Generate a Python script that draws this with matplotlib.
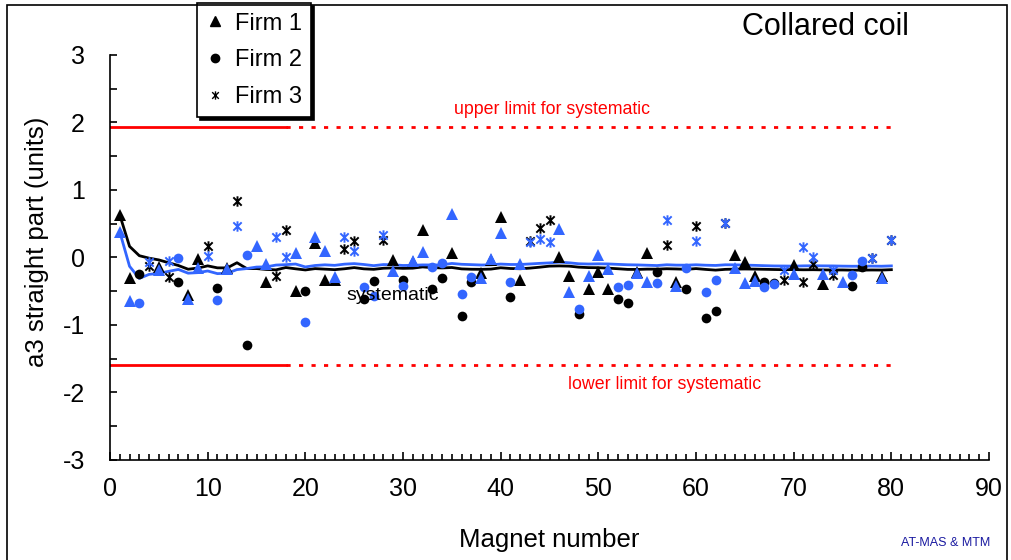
"""a3 straight part vs magnet number, collared coil, three firms."""
import numpy as np
import matplotlib
matplotlib.use("Agg")
import matplotlib.pyplot as plt
import matplotlib.patches as mpatches
from matplotlib.lines import Line2D
from matplotlib.path import Path
from matplotlib.ticker import MultipleLocator

plt.rcParams["font.family"] = ["Liberation Sans", "DejaVu Sans"]
plt.rcParams["axes.unicode_minus"] = False

magnet = np.arange(1, 81)
firm = [1, 1, 2, 3, 1, 3, 2, 1, 1, 3,
        2, 1, 3, 2, 1, 1, 3, 3, 1, 2,
        1, 1, 1, 3, 3, 2, 2, 3, 1, 2,
        1, 1, 2, 2, 1, 2, 2, 1, 1, 1,
        2, 1, 3, 3, 3, 1, 1, 2, 1, 1,
        1, 2, 2, 1, 1, 2, 3, 1, 2, 3,
        2, 2, 3, 1, 1, 1, 2, 2, 3, 1,
        3, 3, 1, 3, 1, 2, 2, 3, 1, 3]
a3_black = [0.63, -0.30, -0.25, -0.12, -0.14, -0.29, -0.36, -0.56, -0.02, 0.17,
            -0.45, -0.16, 0.84, -1.29, np.nan, -0.36, -0.27, 0.40, -0.49, -0.49,
            0.21, -0.33, -0.34, 0.12, 0.25, -0.61, -0.35, 0.26, -0.03, -0.34,
            -0.07, 0.40, -0.47, -0.30, 0.06, -0.86, -0.36, -0.23, -0.04, 0.60,
            -0.58, -0.33, 0.24, 0.43, 0.55, 0.01, -0.28, -0.83, -0.47, -0.22,
            -0.46, -0.62, -0.67, -0.22, 0.07, -0.21, 0.19, -0.36, -0.47, 0.46,
            -0.90, -0.80, 0.51, 0.04, -0.06, -0.28, -0.36, -0.38, -0.34, -0.11,
            -0.36, -0.10, -0.39, -0.26, np.nan, -0.42, -0.14, -0.01, -0.27, 0.26]
a3_blue = [0.38, -0.64, -0.67, -0.07, -0.18, -0.05, -0.01, -0.62, -0.16, 0.02,
           -0.63, -0.17, 0.47, 0.03, 0.17, -0.09, 0.31, 0.00, 0.07, -0.96,
           0.31, 0.10, -0.29, 0.31, 0.10, -0.43, -0.57, 0.34, -0.20, -0.42,
           -0.05, 0.08, -0.14, -0.08, 0.65, -0.54, -0.29, -0.31, -0.02, 0.36,
           -0.36, -0.09, 0.23, 0.28, 0.23, 0.42, -0.51, -0.77, -0.28, 0.04,
           -0.17, -0.44, -0.41, -0.23, -0.36, -0.38, 0.55, -0.42, -0.16, 0.25,
           -0.51, -0.34, 0.51, -0.15, -0.38, -0.35, -0.43, -0.40, -0.19, -0.25,
           0.15, 0.00, -0.25, -0.18, -0.36, -0.26, -0.05, -0.01, -0.30, 0.26]
upper_limit = 1.94
lower_limit = -1.60
solid_until = 18

BLUE = "#3366ff"
# asterisk drawn as an X with a vertical bar
STAR = Path([(0, -1), (0, 1), (-0.8, -0.8), (0.8, 0.8), (-0.8, 0.8), (0.8, -0.8)],
            [Path.MOVETO, Path.LINETO] * 3)
MARKERS = {1: "^", 2: "o", 3: STAR}
SIZES = {1: 8.5, 2: 7, 3: 7.5}

firm = np.array(firm)
a3_black = np.array(a3_black)
a3_blue = np.array(a3_blue)


def running_mean(v):
    ok = ~np.isnan(v)
    return np.cumsum(np.where(ok, v, 0)) / np.cumsum(ok)


fig = plt.figure(figsize=(10.12, 5.6), dpi=100)
ax = fig.add_axes([0.1087, 0.1786, 0.8686, 0.7232])

# limits
ax.plot([0, solid_until], [upper_limit] * 2, color="red", lw=2, zorder=1)
ax.plot([solid_until, 80], [upper_limit] * 2, color="red", lw=2,
        linestyle=(0, (1.5, 3)), zorder=1)
ax.plot([0, solid_until], [lower_limit] * 2, color="red", lw=2, zorder=1)
ax.plot([solid_until, 80], [lower_limit] * 2, color="red", lw=2,
        linestyle=(0, (1.5, 3)), zorder=1)

# systematic (running average)
ax.plot(magnet, running_mean(a3_black), color="black", lw=2, zorder=2)
ax.plot(magnet, running_mean(a3_blue), color=BLUE, lw=2, zorder=2)

for f in (1, 2, 3):
    sel = firm == f
    mk = MARKERS[f]
    lw = 1.4 if f == 3 else 0
    ax.plot(magnet[sel], a3_black[sel], linestyle="None", marker=mk,
            markersize=SIZES[f], color="black", mew=lw, zorder=3)
    ax.plot(magnet[sel], a3_blue[sel], linestyle="None", marker=mk,
            markersize=SIZES[f], color=BLUE, mew=lw, zorder=4)

ax.text(45.3, 2.19, "upper limit for systematic", color="red", fontsize=12.8,
        ha="center", va="center")
ax.text(56.8, -1.88, "lower limit for systematic", color="red", fontsize=12.8,
        ha="center", va="center")
ax.text(28.9, -0.57, "systematic", color="black", fontsize=14,
        ha="center", va="center", zorder=5)

ax.set_xlim(0, 90)
ax.set_ylim(-3, 3)
ax.xaxis.set_major_locator(MultipleLocator(10))
ax.xaxis.set_minor_locator(MultipleLocator(1))
ax.yaxis.set_major_locator(MultipleLocator(1))
ax.yaxis.set_minor_locator(MultipleLocator(0.5))
ax.tick_params(which="both", direction="in", labelsize=18, width=1.2)
ax.tick_params(axis="x", which="major", length=6, pad=12)
ax.tick_params(axis="x", which="minor", length=4)
ax.tick_params(axis="y", which="both", length=5, pad=18)
for s in ("top", "right"):
    ax.spines[s].set_visible(False)
for s in ("left", "bottom"):
    ax.spines[s].set_linewidth(1.2)
ax.set_xlabel("Magnet number", fontsize=18.5, labelpad=20)
ax.set_ylabel("a3 straight part (units)", fontsize=18.5, labelpad=10)
ax.yaxis.label.set_y(0.538)

handles = [
    Line2D([0], [0], marker="^", linestyle="None", markersize=7, color="black",
           label="Firm 1"),
    Line2D([0], [0], marker="o", linestyle="None", markersize=6, color="black",
           label="Firm 2"),
    Line2D([0], [0], marker=STAR, linestyle="None", markersize=6,
           color="black", mew=1, label="Firm 3"),
]
leg = ax.legend(handles=handles, loc="upper left", bbox_to_anchor=(0.099, 1.128),
                fontsize=17, frameon=True, fancybox=False,
                shadow={"color": "black", "alpha": 1},
                edgecolor="black", framealpha=1, handlelength=0.7,
                handletextpad=0.5, labelspacing=0.62, borderpad=0.4,
                borderaxespad=0)
leg.get_frame().set_linewidth(1.2)

fig.text(0.816, 0.952, "Collared coil", fontsize=22, ha="center", va="center")
fig.text(0.934, 0.03, "AT-MAS & MTM", fontsize=9, color="#1a1aa0",
         ha="center", va="center")

fig.patches.append(mpatches.Rectangle((0.007, -0.05), 0.988, 1.041,
                                      transform=fig.transFigure, fill=False,
                                      edgecolor="black", lw=1.2))

plt.savefig("out.png", dpi=100, facecolor="white")
